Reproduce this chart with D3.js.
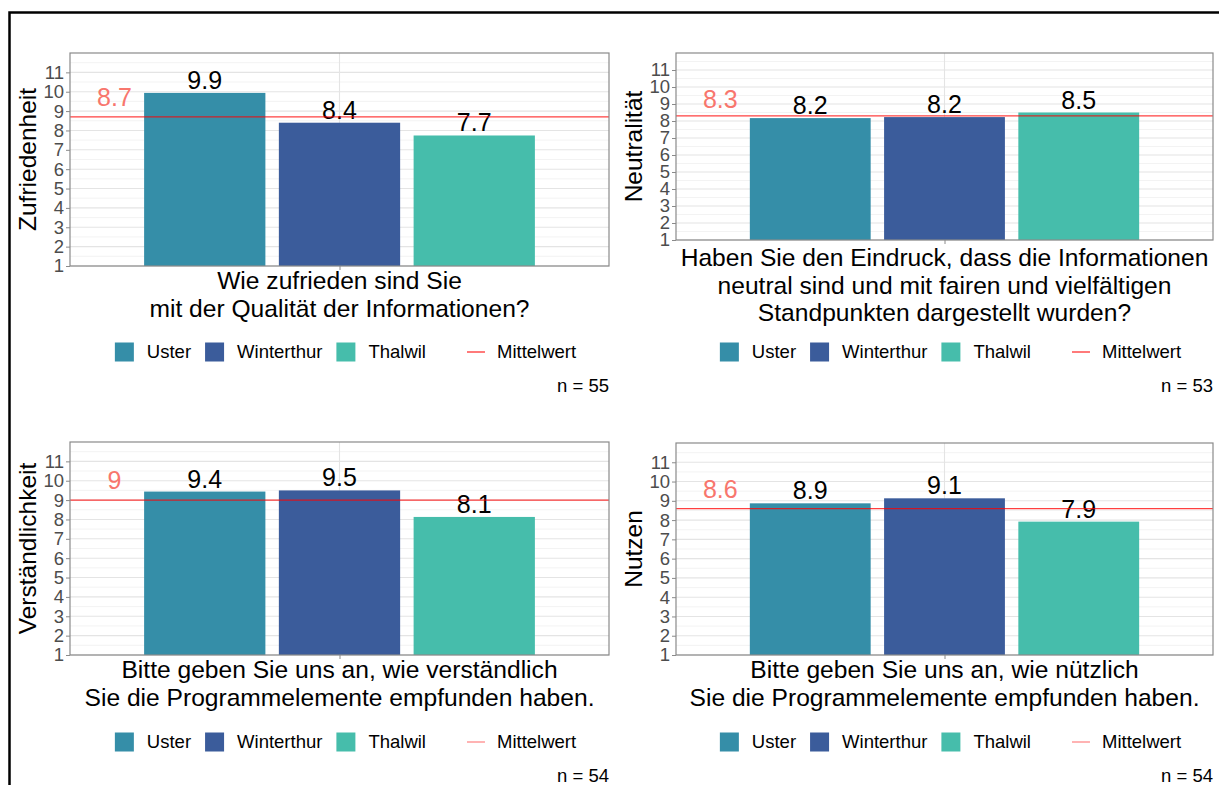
<!DOCTYPE html>
<html><head><meta charset="utf-8">
<script src="https://cdn.jsdelivr.net/npm/d3@7"></script>
<style>
body{margin:0;background:#fff}
svg{display:block}
text{font-family:"Liberation Sans",Arial,Helvetica,sans-serif}
</style>
</head><body>
<svg id="chart" width="1219" height="785"></svg>
<script>
// ---- data ----
const cities = ["Uster", "Winterthur", "Thalwil"];
const cityColors = ["#358EA8", "#3B5C9B", "#46BDAB"];
const zufriedenheit = [9.94, 8.4, 7.74];
const neutralitaet = [8.17, 8.23, 8.5];
const verstaendlichkeit = [9.44, 9.5, 8.13];
const nutzen = [8.87, 9.13, 7.92];
const means = [8.7, 8.3, 9, 8.6];
const nCounts = [55, 53, 54, 54];
const yTitles = ["Zufriedenheit", "Neutralität", "Verständlichkeit", "Nutzen"];
const questions = [
  ["Wie zufrieden sind Sie", "mit der Qualität der Informationen?"],
  ["Haben Sie den Eindruck, dass die Informationen", "neutral sind und mit fairen und vielfältigen", "Standpunkten dargestellt wurden?"],
  ["Bitte geben Sie uns an, wie verständlich", "Sie die Programmelemente empfunden haben."],
  ["Bitte geben Sie uns an, wie nützlich", "Sie die Programmelemente empfunden haben."]
];
const yTicks = [1, 2, 3, 4, 5, 6, 7, 8, 9, 10, 11];
const meanLabel = "Mittelwert";
const seriesByPanel = [zufriedenheit, neutralitaet, verstaendlichkeit, nutzen];

// ---- layout ----
const layout = [
  {x0: 70,  x1: 609,  y0: 53,  y1: 266, titleY: 289, legY: 352, nY: 392, legLine: "#ff2020"},
  {x0: 676, x1: 1213, y0: 53,  y1: 240, titleY: 266, legY: 352, nY: 392, legLine: "#ff2020"},
  {x0: 70,  x1: 609,  y0: 442, y1: 655, titleY: 678, legY: 742, nY: 782, legLine: "#ff8080"},
  {x0: 676, x1: 1213, y0: 443, y1: 655, titleY: 678, legY: 742, nY: 782, legLine: "#ff8080"}
];

const svg = d3.select("#chart");
svg.append("rect").attr("width", 1219).attr("height", 785).attr("fill", "#fff");

// outer frame (top and left edges)
svg.append("path").attr("d", "M9.5,785 V12.5 H1219")
  .attr("fill", "none").attr("stroke", "#000").attr("stroke-width", 2.5);

const fmtBar = d3.format(".1f");
const fmtMean = d3.format("~g");

layout.forEach((L, p) => {
  const vals = seriesByPanel[p];
  const data = cities.map((c, i) => ({city: c, value: vals[i], color: cityColors[i], pos: i + 1}));
  const x = d3.scaleLinear().domain([0, 4]).range([L.x0, L.x1]);
  const y = d3.scaleLinear().domain([1, 12]).range([L.y1, L.y0]);
  const g = svg.append("g");

  // grid
  const minor = d3.range(1.5, 12, 1);
  g.selectAll(".minor").data(minor).join("line")
    .attr("x1", L.x0).attr("x2", L.x1)
    .attr("y1", d => y(d)).attr("y2", d => y(d))
    .attr("stroke", "#f0f0f0").attr("stroke-width", 0.8);
  g.selectAll(".major").data(yTicks).join("line")
    .attr("x1", L.x0).attr("x2", L.x1)
    .attr("y1", d => y(d)).attr("y2", d => y(d))
    .attr("stroke", "#e4e4e4").attr("stroke-width", 1.1);
  g.append("line").attr("x1", x(2)).attr("x2", x(2)).attr("y1", L.y0).attr("y2", L.y1)
    .attr("stroke", "#e4e4e4").attr("stroke-width", 1.1);

  // bars
  g.selectAll(".bar").data(data).join("rect")
    .attr("x", d => x(d.pos - 0.45)).attr("width", d => x(d.pos + 0.45) - x(d.pos - 0.45))
    .attr("y", d => y(d.value)).attr("height", d => y(1) - y(d.value))
    .attr("fill", d => d.color);

  // bar labels
  g.selectAll(".blab").data(data).join("text")
    .attr("x", d => x(d.pos)).attr("y", d => y(d.value) - 4)
    .attr("text-anchor", "middle").attr("font-size", 25).attr("fill", "#000")
    .text(d => fmtBar(d.value));

  // mean line and label
  g.append("line").attr("x1", L.x0).attr("x2", L.x1)
    .attr("y1", y(means[p])).attr("y2", y(means[p]))
    .attr("stroke", "#ff0000").attr("stroke-opacity", 0.75).attr("stroke-width", 1.2);
  g.append("text").attr("x", x(0.33)).attr("y", y(means[p] + 1)).attr("dy", "0.35em")
    .attr("text-anchor", "middle").attr("font-size", 25).attr("fill", "#F8766D")
    .text(fmtMean(means[p]));

  // border
  g.append("rect").attr("x", L.x0).attr("y", L.y0)
    .attr("width", L.x1 - L.x0).attr("height", L.y1 - L.y0)
    .attr("fill", "none").attr("stroke", "#8a8a8a").attr("stroke-width", 1.2);

  // y axis
  const ya = g.append("g").attr("transform", `translate(${L.x0},0)`)
    .call(d3.axisLeft(y).tickValues(yTicks).tickSize(4).tickPadding(2).tickFormat(d3.format("d")));
  ya.select(".domain").remove();
  ya.selectAll(".tick line").attr("stroke", "#8a8a8a");
  ya.selectAll(".tick text").attr("font-size", 18.5).attr("fill", "#4D4D4D")
    .attr("font-family", "Liberation Sans, Arial, sans-serif");

  // x axis (single centered tick)
  const xa = g.append("g").attr("transform", `translate(0,${L.y1})`)
    .call(d3.axisBottom(x).tickValues([2]).tickSize(4).tickFormat(""));
  xa.select(".domain").remove();
  xa.selectAll(".tick line").attr("stroke", "#8a8a8a");

  // y title
  g.append("text")
    .attr("transform", `translate(${L.x0 - 34},${(L.y0 + L.y1) / 2}) rotate(-90)`)
    .attr("text-anchor", "middle").attr("font-size", 24.5).attr("fill", "#000")
    .text(yTitles[p]);

  // x title (question)
  const cx = (L.x0 + L.x1) / 2;
  g.selectAll(".q").data(questions[p]).join("text")
    .attr("x", cx).attr("y", (d, i) => L.titleY + i * 27.5)
    .attr("text-anchor", "middle").attr("font-size", 24.6).attr("fill", "#000")
    .text(d => d);

  // legend
  const leg = g.append("g");
  let cur = 0;
  data.forEach((d, i) => {
    const it = leg.append("g").attr("transform", `translate(${cur},0)`);
    it.append("rect").attr("x", 0).attr("y", -9.5).attr("width", 19).attr("height", 19).attr("fill", d.color);
    const t = it.append("text").attr("x", 32).attr("y", 0).attr("dy", "0.35em")
      .attr("font-size", 18.5).attr("fill", "#000").text(d.city);
    cur += 32 + t.node().getComputedTextLength() + 14;
  });
  cur += 27;
  const mi = leg.append("g").attr("transform", `translate(${cur},0)`);
  mi.append("line").attr("x1", 0).attr("x2", 18).attr("y1", 0).attr("y2", 0)
    .attr("stroke", L.legLine).attr("stroke-width", 1.2);
  const mt = mi.append("text").attr("x", 30).attr("y", 0).attr("dy", "0.35em")
    .attr("font-size", 18.5).attr("fill", "#000").text(meanLabel);
  const total = cur + 30 + mt.node().getComputedTextLength();
  leg.attr("transform", `translate(${cx + 6 - total / 2},${L.legY})`);

  // n label
  g.append("text").attr("x", L.x1).attr("y", L.nY)
    .attr("text-anchor", "end").attr("font-size", 18.5).attr("fill", "#000")
    .text(`n = ${nCounts[p]}`);
});
</script>
</body></html>
